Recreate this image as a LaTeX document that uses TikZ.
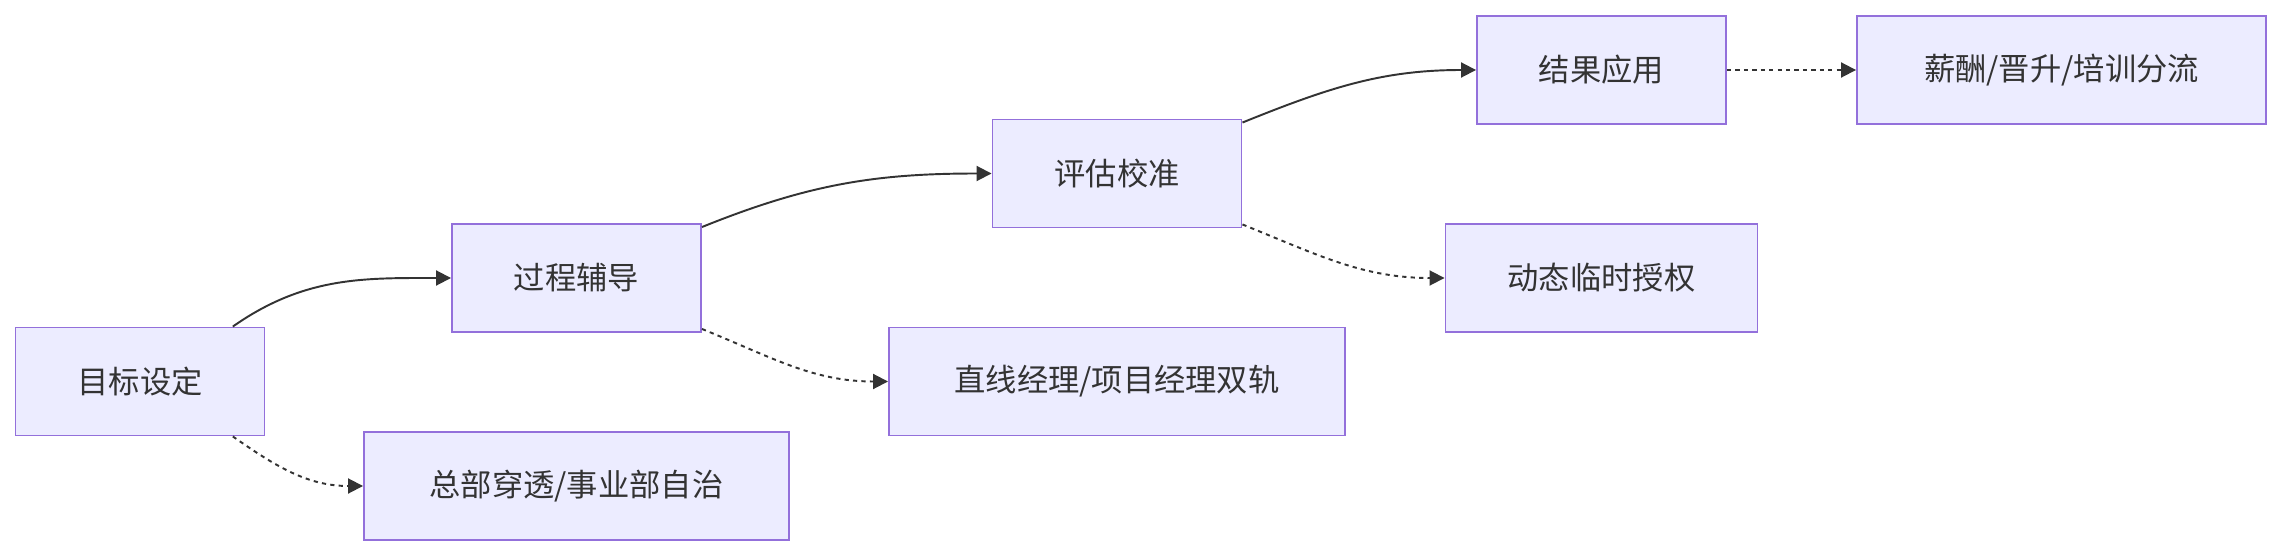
\documentclass[tikz,border=0pt]{standalone}
\usepackage{fontspec}
\newfontfamily\cjk{Noto Sans CJK SC}
\usetikzlibrary{positioning,calc,arrows.meta}
\definecolor{boxfill}{HTML}{ECECFF}
\definecolor{boxline}{HTML}{9370DB}
\definecolor{ink}{HTML}{333333}

\begin{document}
\begin{tikzpicture}[
    stage/.style={draw=boxline, line width=1.1pt, fill=boxfill, text=ink, minimum width=4.98cm, minimum height=2.16cm, inner sep=0pt, font=\cjk\fontsize{17.8}{21}\selectfont},
    flow/.style={color=ink, line width=1.1pt, -{Triangle[length=0.3cm,width=0.3cm]}},
    side/.style={flow, dash pattern=on 2.4pt off 2.4pt}
]
\useasboundingbox (0,0) rectangle (45.66,-11.12);

% Main chain
\node[stage] (goal) at (2.80,-7.63) {目标设定};
\node[stage] (coach) at (11.53,-5.56) {过程辅导};
\node[stage] (calib) at (22.34,-3.47) {评估校准};
\node[stage] (apply) at (32.03,-1.40) {结果应用};

% Branches
\node[stage, minimum width=8.5cm] (hq) at (11.53,-9.72) {总部穿透/事业部自治};
\node[stage, minimum width=9.12cm] (dual) at (22.34,-7.63) {直线经理/项目经理双轨};
\node[stage, minimum width=6.24cm] (grant) at (32.03,-5.56) {动态临时授权};
\node[stage, minimum width=8.18cm] (split) at (41.23,-1.40) {薪酬/晋升/培训分流};

% Edges
\draw[flow] ($(goal.north)!0.74!(goal.north east)$) to[out=35,in=180] (coach.west);
\draw[side] ($(goal.south)!0.74!(goal.south east)$) to[out=-35,in=180] (hq.west);
\draw[flow] ($(coach.north east)+(0,-0.08)$) to[out=22,in=180] (calib.west);
\draw[side] ($(coach.south east)+(0,0.08)$) to[out=-22,in=180] (dual.west);
\draw[flow] ($(calib.north east)+(0,-0.08)$) to[out=22,in=180] (apply.west);
\draw[side] ($(calib.south east)+(0,0.08)$) to[out=-22,in=180] (grant.west);
\draw[side] (apply) -- (split);

\end{tikzpicture}
\end{document}
